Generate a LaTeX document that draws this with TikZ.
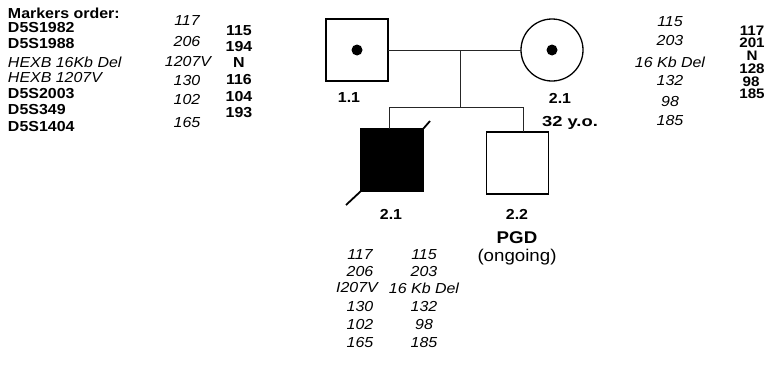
\documentclass[tikz,border=0pt]{standalone}
\usepackage{graphicx}
\usepackage{fontspec}
\setmainfont{Liberation Sans}[FakeStretch=1.1]
\begin{document}
\begin{tikzpicture}[x=1pt,y=-1pt,
  every node/.style={inner sep=0pt,outer sep=0pt},
  btxt/.style={font=\fontsize{14.5}{14.5}\selectfont\bfseries},
  stxt/.style={font=\fontsize{13.8}{13.8}\selectfont\bfseries},
  itxt/.style={font=\fontsize{14.5}{14.5}\selectfont\itshape},
  lbl/.style={font=\fontsize{14.5}{14.5}\selectfont\bfseries},
  big/.style={font=\fontsize{17}{17}\selectfont},
  person/.style={draw,line width=1.3pt,minimum size=62pt},
  conn/.style={line width=0.9pt,draw=black!85},
  dot/.style={circle,fill=black,minimum size=11pt}
]
\useasboundingbox (0,0) rectangle (767,367);
% markers list
\node[btxt,anchor=west] (mk0) at (8,13) {Markers order:};
\node[btxt,anchor=west] (mk1) at (8,28) {D5S1982};
\node[btxt,anchor=west] (mk2) at (8,44) {D5S1988};
\node[itxt,anchor=west] (mk3) at (8,62) {HEXB 16Kb Del};
\node[itxt,anchor=west] (mk4) at (8,78) {HEXB 1207V};
\node[btxt,anchor=west] (mk5) at (8,94) {D5S2003};
\node[btxt,anchor=west] (mk6) at (8,110) {D5S349};
\node[btxt,anchor=west] (mk7) at (8,127) {D5S1404};
% father haplotypes
\node[itxt] (fa1) at (187,21) {117};
\node[itxt] (fa2) at (187,42) {206};
\node[itxt] (fa3) at (188,62) {1207V};
\node[itxt] (fa4) at (187,81) {130};
\node[itxt] (fa5) at (187,100) {102};
\node[itxt] (fa6) at (187,123) {165};
\node[btxt] (fb1) at (239,31) {115};
\node[btxt] (fb2) at (239,47) {194};
\node[btxt] (fb3) at (239,63) {N};
\node[btxt] (fb4) at (239,80) {116};
\node[btxt] (fb5) at (239,97) {104};
\node[btxt] (fb6) at (239,113) {193};
% mother haplotypes
\node[itxt] (ma1) at (670,22) {115};
\node[itxt] (ma2) at (670,41) {203};
\node[itxt] (ma3) at (670,62) {16 Kb Del};
\node[itxt] (ma4) at (670,81) {132};
\node[itxt] (ma5) at (670,102) {98};
\node[itxt] (ma6) at (670,121) {185};
\node[stxt] (mb1) at (752,30.5) {117};
\node[stxt] (mb2) at (752,43.2) {201};
\node[stxt] (mb3) at (752,55.9) {N};
\node[stxt] (mb4) at (752,68.6) {128};
\node[stxt] (mb5) at (751,81.3) {98};
\node[stxt] (mb6) at (752,94) {185};
% persons
\node[person] (father) at (357,50) {};
\node[dot] (fdot) at (father.center) {};
\node[person,circle] (mother) at (552,50) {};
\node[dot] (mdot) at (mother.center) {};
\node[person,fill=black] (son) at (392,160) {};
\node[person] (sib) at (517.5,163) {};
% connectors
\coordinate (mid) at (460,50);
\coordinate (sibtop) at (460,107);
\coordinate (sl) at (389,107);
\coordinate (sr) at (523,107);
\draw[conn] (father.east) -- (mother.west);
\draw[conn] (mid) -- (sibtop);
\draw[conn] (sl) -- (sr);
\draw[conn] (sl) -- (sl |- son.north);
\draw[conn] (sr) -- (sr |- sib.north);
\draw[line width=1.8pt] (son.south west) -- ++(-15,14);
\draw[line width=1.8pt] (son.north east) -- ++(7,-8);
% labels
\node[lbl] (l11) at (349,98) {1.1};
\node[lbl] (l21) at (560,98) {2.1};
\node[lbl] (age) at (570,123) {\scalebox{1.15}[1]{32 y.o.}};
\node[lbl] (ls1) at (391,214) {2.1};
\node[lbl] (ls2) at (517,214) {2.2};
\node[big,font=\fontsize{17}{17}\selectfont\bfseries] (pgd) at (517,238) {PGD};
\node[big] (ong) at (517,257) {(ongoing)};
% child haplotypes
\node[itxt] (c11) at (360,254.5) {117};
\node[itxt] (c12) at (360,271.5) {206};
\node[itxt] (c13) at (357,288) {I207V};
\node[itxt] (c14) at (360,307) {130};
\node[itxt] (c15) at (360,325) {102};
\node[itxt] (c16) at (360,343) {165};
\node[itxt] (c21) at (424,254.5) {115};
\node[itxt] (c22) at (424,271.5) {203};
\node[itxt] (c23) at (424,288) {16 Kb Del};
\node[itxt] (c24) at (424,307) {132};
\node[itxt] (c25) at (424,325) {98};
\node[itxt] (c26) at (424,343) {185};
\end{tikzpicture}
\end{document}
